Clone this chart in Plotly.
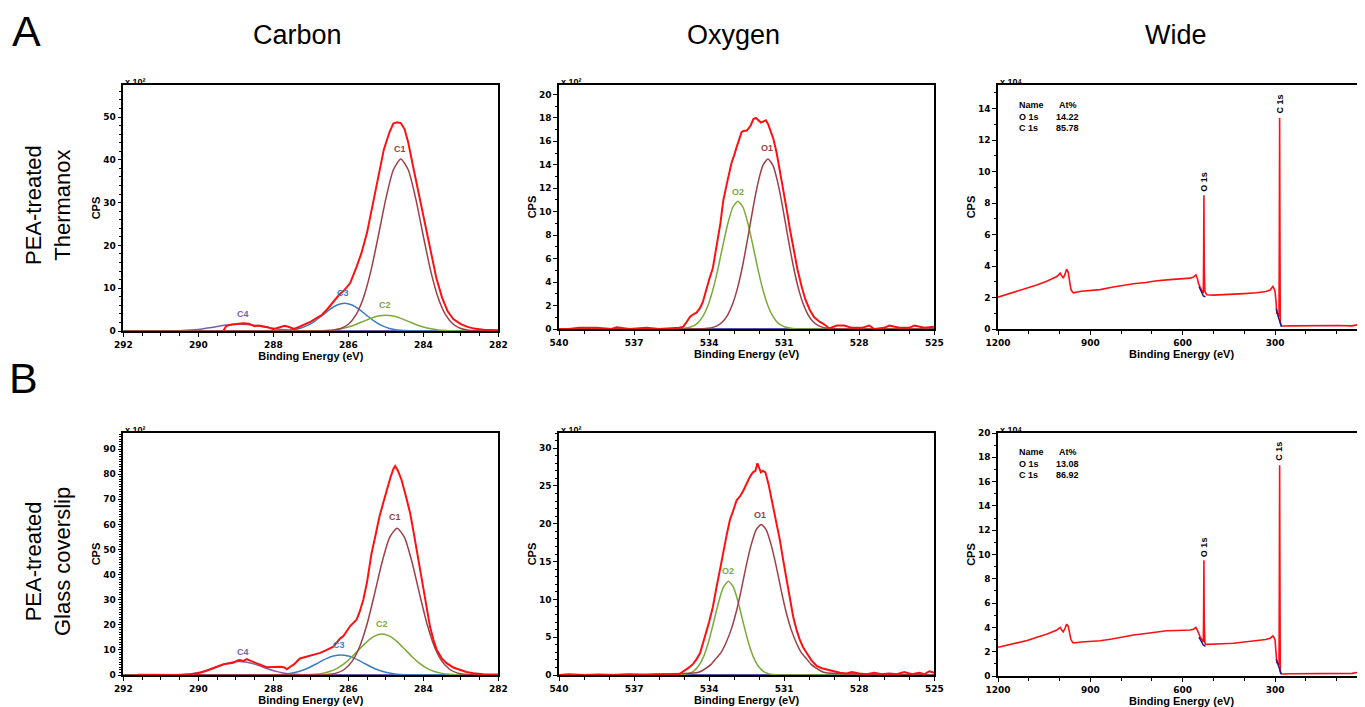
import plotly.graph_objects as go

# The page body has an 8 px default margin, so the figure is drawn 8 px in from the top-left corner.
OFF = 8
W, H = 1365 - OFF, 707 - OFF

# ---------------- DATA ----------------
# Carbon, PEA-treated Thermanox (x10^2 CPS)
CA_RED_X = [289.33, 289.25, 289.1, 288.95, 288.8, 288.65, 288.5, 288.4, 288.3, 288.15, 288.0, 287.85, 287.7, 287.6,
            287.45, 287.3, 287.15, 287.0, 286.85, 286.7, 286.55, 286.4, 286.25, 286.1, 285.95, 285.8, 285.65, 285.5,
            285.35, 285.2, 285.05, 284.9, 284.8, 284.7, 284.6, 284.5, 284.4, 284.25, 284.1, 283.95, 283.8, 283.65,
            283.5, 283.35, 283.2, 283.0, 282.8, 282.6, 282.4, 282.2, 282.0]
CA_RED_Y = [0.1, 1.2, 1.5, 1.6, 1.8, 1.7, 1.1, 1.3, 1.2, 0.9, 0.4, 0.8, 1.2, 1.0,
            0.5, 1.0, 1.6, 2.2, 3.0, 3.8, 5.2, 6.8, 8.4, 9.6, 11.2, 14.5, 18.2, 23.0,
            29.5, 36.0, 42.5, 46.5, 48.5, 48.8, 48.6, 47.2, 44.0, 37.5, 31.0, 24.5, 18.0, 12.3,
            7.8, 4.6, 2.8, 1.6, 0.9, 0.5, 0.3, 0.2, 0.2]
CA_C1_X = [282.0, 282.6, 282.8, 283.0, 283.2, 283.4, 283.6, 283.8, 284.0, 284.2, 284.4, 284.6, 284.8, 285.0, 285.2,
           285.4, 285.6, 285.8, 286.0, 286.2, 286.4, 286.6, 292.0]
CA_C1_Y = [0, 0.05, 0.19, 0.58, 1.58, 3.72, 7.68, 13.95, 22.19, 30.87, 37.63, 40.2, 37.63, 30.87, 22.19,
           13.95, 7.68, 3.72, 1.58, 0.58, 0.19, 0.05, 0]
CA_C2_X = [282.0, 282.8, 283.0, 283.2, 283.4, 283.6, 283.8, 284.0, 284.2, 284.4, 284.6, 284.8, 285.0, 285.2, 285.4,
           285.6, 285.8, 286.0, 286.2, 286.4, 286.6, 286.8, 287.0, 287.2, 292.0]
CA_C2_Y = [0, 0.0, 0.01, 0.04, 0.11, 0.24, 0.50, 0.92, 1.52, 2.25, 2.96, 3.50, 3.7, 3.50, 2.96,
           2.25, 1.52, 0.92, 0.50, 0.24, 0.11, 0.04, 0.01, 0.0, 0]
CA_C3_X = [282.0, 283.9, 284.1, 284.3, 284.5, 284.7, 284.9, 285.1, 285.3, 285.5, 285.7, 285.9, 286.1, 286.3, 286.5,
           286.7, 286.9, 287.1, 287.3, 287.5, 287.7, 287.9, 288.1, 288.3, 292.0]
CA_C3_Y = [0, 0, 0.01, 0.03, 0.09, 0.25, 0.60, 1.24, 2.26, 3.59, 4.99, 6.08, 6.5, 6.08, 4.99,
           3.59, 2.26, 1.24, 0.60, 0.25, 0.09, 0.03, 0.01, 0, 0]
CA_C4_X = [282.0, 286.7, 286.9, 287.1, 287.3, 287.5, 287.7, 287.9, 288.1, 288.3, 288.5, 288.7, 288.9, 289.1, 289.3,
           289.5, 289.7, 289.9, 290.1, 290.3, 290.5, 290.7, 290.9, 291.1, 292.0]
CA_C4_Y = [0, 0.01, 0.01, 0.04, 0.08, 0.16, 0.29, 0.49, 0.75, 1.04, 1.32, 1.53, 1.6, 1.53, 1.32,
           1.04, 0.75, 0.49, 0.29, 0.16, 0.08, 0.04, 0.01, 0.01, 0]

# Carbon, PEA-treated Glass coverslip (x10^2 CPS)
CB_RED_X = [291.6, 291.2, 290.8, 290.4, 290.2, 290.05, 289.95, 289.8, 289.69, 289.5, 289.33, 289.2, 289.07, 288.95,
            288.89, 288.8, 288.71, 288.6, 288.44, 288.3, 288.18, 288.0, 287.82, 287.7, 287.64, 287.55, 287.45,
            287.29, 287.1, 286.93, 286.75, 286.6, 286.5, 286.4, 286.22, 286.13, 285.95, 285.85, 285.78, 285.7,
            285.6, 285.5, 285.38, 285.27, 285.17, 285.07, 284.98, 284.88, 284.8, 284.75, 284.68, 284.58, 284.46,
            284.35, 284.26, 284.18, 284.09, 284.0, 283.91, 283.82, 283.73, 283.64, 283.5, 283.38, 283.2, 283.02,
            282.85, 282.67, 282.4, 282.0]
CB_RED_Y = [0.1, 0.0, 0.1, 0.0, 0.2, 0.6, 0.9, 1.6, 2.3, 3.4, 4.3, 4.6, 4.9, 5.8,
            6.0, 5.5, 6.3, 5.6, 4.7, 3.6, 3.1, 3.2, 3.3, 3.0, 2.3, 3.3, 4.2,
            6.6, 7.3, 8.0, 8.8, 9.8, 10.5, 11.3, 14.5, 15.5, 19.5, 21.0, 22.0, 25.0,
            30.0, 37.0, 48.5, 56.0, 63.0, 68.5, 73.7, 78.5, 82.0, 83.3, 81.5, 77.7, 71.0,
            64.4, 57.0, 49.8, 42.0, 33.9, 26.0, 19.2, 14.0, 10.0, 6.5, 4.7, 3.0, 2.0,
            1.2, 0.7, 0.3, 0.2]
CB_C1_X = [282.0, 282.7, 282.9, 283.1, 283.3, 283.5, 283.7, 283.9, 284.1, 284.3, 284.5, 284.7, 284.9, 285.1, 285.3,
           285.5, 285.7, 285.9, 286.1, 286.3, 286.5, 286.7, 292.0]
CB_C1_Y = [0, 0.08, 0.27, 0.85, 2.29, 5.42, 11.17, 20.30, 32.29, 44.93, 54.76, 58.5, 54.76, 44.93, 32.29,
           20.30, 11.17, 5.42, 2.29, 0.85, 0.27, 0.08, 0]
CB_C2_X = [282.0, 282.9, 283.1, 283.3, 283.5, 283.7, 283.9, 284.1, 284.3, 284.5, 284.7, 284.9, 285.1, 285.3, 285.5,
           285.7, 285.9, 286.1, 286.3, 286.5, 286.7, 286.9, 287.1, 287.3, 292.0]
CB_C2_Y = [0, 0.04, 0.11, 0.28, 0.65, 1.38, 2.66, 4.63, 7.29, 10.37, 13.32, 15.50, 16.3, 15.50, 13.32,
           10.37, 7.29, 4.63, 2.66, 1.38, 0.65, 0.28, 0.11, 0.04, 0]
CB_C3_X = [282.0, 284.0, 284.2, 284.4, 284.6, 284.8, 285.0, 285.2, 285.4, 285.6, 285.8, 286.0, 286.2, 286.4, 286.6,
           286.8, 287.0, 287.2, 287.4, 287.6, 287.8, 288.0, 288.2, 288.4, 292.0]
CB_C3_Y = [0, 0.01, 0.03, 0.09, 0.23, 0.53, 1.08, 1.99, 3.29, 4.86, 6.41, 7.57, 8.0, 7.57, 6.41,
           4.86, 3.29, 1.99, 1.08, 0.53, 0.23, 0.09, 0.03, 0.01, 0]
CB_C4_X = [282.0, 286.7, 286.9, 287.1, 287.3, 287.5, 287.7, 287.9, 288.1, 288.3, 288.5, 288.7, 288.9, 289.1, 289.3,
           289.5, 289.7, 289.9, 290.1, 290.3, 290.5, 290.7, 290.9, 291.1, 292.0]
CB_C4_Y = [0, 0.01, 0.02, 0.06, 0.15, 0.35, 0.73, 1.34, 2.22, 3.28, 4.33, 5.11, 5.4, 5.11, 4.33,
           3.28, 2.22, 1.34, 0.73, 0.35, 0.15, 0.06, 0.02, 0.01, 0]

# Oxygen, PEA-treated Thermanox (x10^2 CPS)
OA_RED_X = [525.0, 525.4, 525.8, 526.0, 526.4, 526.8, 527.0, 527.4, 527.6, 527.9, 528.3, 528.6, 528.9, 529.2, 529.4,
            529.57, 529.8, 529.97, 530.15, 530.3, 530.47, 530.64, 530.77, 530.9, 531.05, 531.17, 531.3, 531.43,
            531.55, 531.63, 531.73, 531.83, 531.93, 532.03, 532.13, 532.23, 532.35, 532.5, 532.6, 532.7, 532.8,
            532.9, 533.0, 533.1, 533.25, 533.43, 533.55, 533.7, 533.85, 534.0, 534.1, 534.25, 534.36, 534.5, 534.6,
            534.76, 534.9, 535.03, 535.2, 535.6, 536.0, 536.5, 537.2, 537.7, 537.9, 538.5, 538.7, 539.2, 539.6,
            540.0]
OA_RED_Y = [0.2, 0.1, 0.3, 0.1, 0.1, 0.3, 0.1, 0.0, 0.3, 0.1, 0.1, 0.3, 0.3, 0.05, 0.4,
            0.6, 1.0, 1.6, 2.5, 3.6, 5.1, 6.9, 8.5, 10.2, 12.0, 13.5, 15.0, 16.2,
            17.0, 17.4, 17.8, 17.7, 17.6, 17.8, 18.0, 17.9, 17.3, 16.9, 16.9, 16.8, 16.2,
            15.5, 14.8, 14.2, 12.8, 11.0, 9.0, 7.0, 5.2, 4.2, 3.4, 2.3, 1.8, 1.4, 1.3,
            1.05, 0.6, 0.2, 0.1, 0.05, 0.0, 0.1, 0.0, 0.15, 0.0, 0.1, 0.1, 0.1, 0.0,
            0.0]
OA_O1_X = [525.0, 529.05, 529.25, 529.45, 529.65, 529.85, 530.05, 530.25, 530.45, 530.65, 530.85, 531.05, 531.25,
           531.45, 531.65, 531.85, 532.05, 532.25, 532.45, 532.65, 532.85, 533.05, 533.25, 533.45, 533.65, 533.85,
           534.05, 534.25, 540.0]
OA_O1_Y = [0, 0.02, 0.06, 0.14, 0.31, 0.64, 1.23, 2.19, 3.61, 5.52, 7.82, 10.25, 12.43,
           13.95, 14.5, 13.95, 12.43, 10.25, 7.82, 5.52, 3.61, 2.19, 1.23, 0.64, 0.31, 0.14,
           0.06, 0.02, 0]
OA_O2_X = [525.0, 530.45, 530.65, 530.85, 531.05, 531.25, 531.45, 531.65, 531.85, 532.05, 532.25, 532.45, 532.65,
           532.85, 533.05, 533.25, 533.45, 533.65, 533.85, 534.05, 534.25, 534.45, 534.65, 534.85, 535.05, 535.25,
           540.0]
OA_O2_Y = [0, 0.01, 0.04, 0.10, 0.24, 0.52, 1.07, 1.98, 3.34, 5.11, 7.12, 9.01, 10.40,
           10.9, 10.40, 9.01, 7.12, 5.11, 3.34, 1.98, 1.07, 0.52, 0.24, 0.10, 0.04, 0.01,
           0]

# Oxygen, PEA-treated Glass coverslip (x10^2 CPS)
OB_RED_X = [525.0, 525.2, 525.4, 525.6, 525.9, 526.2, 526.5, 526.8, 527.1, 527.4, 527.7, 528.0, 528.3, 528.5,
            528.77, 529.0, 529.3, 529.5, 529.7, 529.9, 530.1, 530.25, 530.37, 530.5, 530.64, 530.77, 530.9,
            531.04, 531.17, 531.3, 531.43, 531.55, 531.63, 531.75, 531.85, 531.93, 532.0, 532.07, 532.15, 532.25,
            532.37, 532.5, 532.63, 532.75, 532.9, 533.05, 533.17, 533.3, 533.43, 533.55, 533.7, 533.85, 534.0,
            534.1, 534.25, 534.36, 534.5, 534.63, 534.8, 535.03, 535.2, 535.5, 536.0, 536.6, 537.2, 537.8, 538.4,
            539.0, 539.6, 540.0]
OB_RED_Y = [0.3, 0.5, 0.1, 0.3, 0.1, 0.4, 0.1, 0.2, 0.1, 0.3, 0.1, 0.2, 0.4, 0.2,
            0.3, 0.5, 0.7, 0.9, 1.2, 1.9, 2.9, 3.7, 4.6, 5.9, 7.7, 10.0, 12.5,
            15.2, 17.8, 20.0, 22.2, 24.0, 25.3, 26.8, 27.0, 26.8, 27.5, 28.0, 27.0, 26.8,
            26.2, 25.2, 24.4, 23.7, 23.1, 21.6, 20.5, 18.5, 16.5, 14.2, 11.7, 9.0, 7.0,
            5.9, 4.0, 2.9, 2.1, 1.5, 1.0, 0.44, 0.1, 0.0, 0.05, 0.0, 0.1, 0.0, 0.05,
            0.0, 0.1, 0.0]
OB_O1_X = [525.0, 529.32, 529.52, 529.72, 529.92, 530.12, 530.32, 530.52, 530.72, 530.92, 531.12, 531.32, 531.52,
           531.72, 531.92, 532.12, 532.32, 532.52, 532.72, 532.92, 533.12, 533.32, 533.52, 533.72, 533.92, 534.12,
           534.32, 534.52, 540.0]
OB_O1_Y = [0, 0.3, 0.5, 0.9, 1.4, 2.2, 3.0, 4.3, 6.0, 8.3, 11.2, 14.4, 17.2,
           19.2, 19.9, 19.2, 17.2, 14.4, 11.2, 8.3, 6.0, 4.3, 3.0, 2.2, 1.4, 0.9,
           0.5, 0.3, 0]
OB_O2_X = [525.0, 531.23, 531.43, 531.63, 531.83, 532.03, 532.23, 532.43, 532.63, 532.83, 533.03, 533.23, 533.43,
           533.63, 533.83, 534.03, 534.23, 534.43, 534.63, 534.83, 535.03, 535.23, 540.0]
OB_O2_Y = [0, 0.02, 0.06, 0.18, 0.49, 1.15, 2.37, 4.30, 6.84, 9.52, 11.61, 12.4, 11.61,
           9.52, 6.84, 4.30, 2.37, 1.15, 0.49, 0.18, 0.06, 0.02, 0]

# Wide survey (x10^4 CPS)
WIDE_X = [1200, 1170, 1139, 1105, 1074, 1040, 1009, 1000, 998, 992, 988, 982, 977, 972, 968, 963, 958, 955, 930, 900,
          868, 830, 800, 760, 720, 690, 652, 620, 590, 576, 565, 557, 552, 549, 543, 538, 535, 533, 532, 531, 530,
          528, 526, 522, 500, 470, 435, 400, 360, 330, 316, 310, 307, 303, 300, 297, 294, 291, 289, 287, 286, 285,
          284, 283, 281, 278, 273, 250, 200, 150, 100, 50, 30, 20, 12, 8]
WA_Y = [2.02, 2.2, 2.38, 2.6, 2.8, 3.05, 3.33, 3.5, 3.55, 3.35, 3.23, 3.5, 3.8, 3.6, 3.1, 2.5, 2.35, 2.3, 2.4, 2.45,
        2.5, 2.65, 2.75, 2.87, 2.95, 3.05, 3.12, 3.15, 3.2, 3.23, 3.3, 3.44, 3.2, 2.9, 2.65, 2.48, 2.35, 2.27, 4.5,
        8.5, 4.0, 2.4, 2.27, 2.17, 2.15, 2.18, 2.17, 2.25, 2.3, 2.38, 2.48, 2.6, 2.7, 2.55, 2.38, 1.8, 1.0, 0.95,
        0.9, 0.8, 6.0, 13.4, 6.0, 0.5, 0.25, 0.2, 0.19, 0.2, 0.22, 0.2, 0.22, 0.2, 0.28, 0.25, 0.25, 0.22]
WB_Y = [2.36, 2.52, 2.69, 2.92, 3.18, 3.45, 3.78, 3.95, 4.0, 3.75, 3.64, 3.95, 4.27, 4.1, 3.7, 3.0, 2.78, 2.72, 2.8,
        2.85, 2.9, 3.05, 3.2, 3.37, 3.5, 3.6, 3.72, 3.75, 3.76, 3.78, 3.85, 4.0, 3.75, 3.5, 3.2, 3.0, 2.85, 2.8, 5.0,
        9.53, 4.5, 2.75, 2.63, 2.6, 2.6, 2.65, 2.69, 2.78, 2.9, 3.0, 3.1, 3.22, 3.29, 3.15, 2.96, 2.0, 1.09, 1.05,
        1.0, 0.9, 8.0, 17.34, 8.0, 0.5, 0.22, 0.18, 0.16, 0.18, 0.2, 0.2, 0.2, 0.22, 0.3, 0.3, 0.25, 0.25]
W_BG_O_X = [547, 538, 533, 526]
WA_BG_O_Y = [2.7, 2.35, 2.1, 2.05]
WB_BG_O_Y = [3.2, 2.85, 2.55, 2.45]
W_BG_C_X = [296, 292, 289, 285, 282, 279]
WA_BG_C_Y = [1.3, 0.9, 0.75, 0.5, 0.25, 0.15]
WB_BG_C_Y = [1.4, 1.0, 0.85, 0.55, 0.25, 0.15]

CARBON_RANGE = [292, 282]
OXYGEN_RANGE = [540, 525]
WIDE_RANGE = [1200, 7.7]

AT_A = [("O 1s", "14.22"), ("C 1s", "85.78")]
AT_B = [("O 1s", "13.08"), ("C 1s", "86.92")]

# ---------------- STYLE ----------------
RED = "#ff1010"
BROWN = "#9e3f47"
GREEN = "#7aaa38"
BLUE = "#3d7cc2"
PURPLE = "#7c5ea8"
NAVY = "#1c1c8a"


def px(x):
    return (x - OFF) / W


def py(y):
    return 1 - (y - OFF) / H


# panel pixel boxes in screen pixels: (left, right, top, bottom)
BOX = {
    1: (123.3, 498.3, 85, 331),
    2: (559, 934.3, 85, 329),
    3: (998, 1365, 85, 329),
    4: (123.3, 498.3, 433, 675),
    5: (559, 934.3, 433, 675),
    6: (998, 1365, 433, 676),
}

fig = go.Figure()


def add(idx, x, y, color, width, shape="linear"):
    sfx = "" if idx == 1 else str(idx)
    fig.add_trace(go.Scatter(x=x, y=y, mode="lines", xaxis="x" + sfx, yaxis="y" + sfx,
                             line=dict(color=color, width=width, shape=shape,
                                       smoothing=0.6 if shape == "spline" else None),
                             showlegend=False, hoverinfo="skip"))


# Carbon A
add(1, list(CARBON_RANGE), [0, 0], NAVY, 1.5)
add(1, CA_C4_X, CA_C4_Y, PURPLE, 1.5, "spline")
add(1, CA_C3_X, CA_C3_Y, BLUE, 1.5, "spline")
add(1, CA_C2_X, CA_C2_Y, GREEN, 1.5, "spline")
add(1, CA_C1_X, CA_C1_Y, BROWN, 1.5, "spline")
add(1, CA_RED_X, CA_RED_Y, RED, 2)
# Oxygen A
add(2, list(OXYGEN_RANGE), [0, 0], NAVY, 1.5)
add(2, OA_O2_X, OA_O2_Y, GREEN, 1.5, "spline")
add(2, OA_O1_X, OA_O1_Y, BROWN, 1.5, "spline")
add(2, OA_RED_X, OA_RED_Y, RED, 2)
# Wide A
add(3, WIDE_X, WA_Y, RED, 1.6)
add(3, W_BG_O_X, WA_BG_O_Y, NAVY, 1.5)
add(3, W_BG_C_X, WA_BG_C_Y, NAVY, 1.5)
# Carbon B
add(4, list(CARBON_RANGE), [0, 0], NAVY, 1.5)
add(4, CB_C4_X, CB_C4_Y, PURPLE, 1.5, "spline")
add(4, CB_C3_X, CB_C3_Y, BLUE, 1.5, "spline")
add(4, CB_C2_X, CB_C2_Y, GREEN, 1.5, "spline")
add(4, CB_C1_X, CB_C1_Y, BROWN, 1.5, "spline")
add(4, CB_RED_X, CB_RED_Y, RED, 2)
# Oxygen B
add(5, list(OXYGEN_RANGE), [0, 0], NAVY, 1.5)
add(5, OB_O2_X, OB_O2_Y, GREEN, 1.5, "spline")
add(5, OB_O1_X, OB_O1_Y, BROWN, 1.5, "spline")
add(5, OB_RED_X, OB_RED_Y, RED, 2)
# Wide B
add(6, WIDE_X, WB_Y, RED, 1.6)
add(6, W_BG_O_X, WB_BG_O_Y, NAVY, 1.5)
add(6, W_BG_C_X, WB_BG_C_Y, NAVY, 1.5)

TICKFONT = dict(family="DejaVu Sans", size=9, color="black", weight="bold")
TITLEFONT = dict(family="Liberation Sans", size=11, color="black", weight="bold")

X_SPEC = {1: (CARBON_RANGE, 2, 0.5), 2: (OXYGEN_RANGE, 3, 1), 3: (WIDE_RANGE, 300, 100),
          4: (CARBON_RANGE, 2, 0.5), 5: (OXYGEN_RANGE, 3, 1), 6: (WIDE_RANGE, 300, 100)}
Y_SPEC = {1: ([0, 57.5], 10, 2), 2: ([0, 20.8], 2, 1), 3: ([0, 15.5], 2, 1),
          4: ([0, 96.4], 10, 1), 5: ([0, 32.0], 5, 1), 6: ([0, 20.0], 2, 1)}

layout = dict(width=W, height=H, margin=dict(l=0, r=0, t=0, b=0, autoexpand=False),
              paper_bgcolor="white", plot_bgcolor="white", showlegend=False)

for i in range(1, 7):
    sfx = "" if i == 1 else str(i)
    l, r, t, b = BOX[i]
    xr, xd, xm = X_SPEC[i]
    yr, yd, ym = Y_SPEC[i]
    wide = i in (3, 6)
    layout["xaxis" + sfx] = dict(
        domain=[max(0, px(l)), min(1, px(r))], anchor="y" + sfx, range=xr, tick0=0, dtick=xd, automargin=False,
        showline=True, linecolor="black", linewidth=1.5, mirror=True,
        ticks="outside", ticklen=4, tickwidth=1, tickcolor="black",
        minor=dict(dtick=xm, ticks="outside", ticklen=3, tickcolor="black", tickwidth=1),
        showgrid=False, zeroline=False, tickfont=TICKFONT,
        title=dict(text="Binding Energy (eV)", font=TITLEFONT, standoff=0),
    )
    layout["yaxis" + sfx] = dict(
        domain=[py(b), py(t)], anchor="x" + sfx, range=yr, tick0=0, dtick=yd, automargin=False,
        showline=True, linecolor="black", linewidth=1.5, mirror=not wide,
        ticks="outside", ticklen=4, tickwidth=1, tickcolor="black",
        minor=dict(dtick=ym, ticks="outside", ticklen=2.5, tickcolor="black", tickwidth=1),
        showgrid=False, zeroline=False, tickfont=TICKFONT,
        title=dict(text="CPS", font=TITLEFONT, standoff=0),
    )

fig.update_layout(**layout)

ann = []


def paper_text(text, x, y, size, angle=0, family="Liberation Sans", weight="normal", xanchor="center",
               color="black"):
    ann.append(dict(text=text, x=px(x), y=py(y), xref="paper", yref="paper", showarrow=False,
                    xanchor=xanchor, yanchor="middle", textangle=angle,
                    font=dict(family=family, size=size, color=color, weight=weight)))


paper_text("A", 26, 31, 43)
paper_text("B", 23, 378, 43)
paper_text("Carbon", 297, 35, 27)
paper_text("Oxygen", 733, 35, 27)
paper_text("Wide", 1176, 35, 27)
paper_text("PEA-treated<br>Thermanox", 48, 205, 22, angle=-90)
paper_text("PEA-treated<br>Glass coverslip", 48, 562, 22, angle=-90)

# exponent labels
for i, e in [(1, "\u00b2"), (2, "\u00b2"), (3, "\u2074"), (4, "\u00b2"), (5, "\u00b2"), (6, "\u2074")]:
    sfx = "" if i == 1 else str(i)
    ann.append(dict(text="x 10" + e, x=0, y=1, xref="x%s domain" % sfx, yref="y%s domain" % sfx,
                    xanchor="left", yanchor="bottom", showarrow=False, yshift=-4,
                    font=dict(family="Liberation Sans", size=9, color="black", weight="bold")))


def data_text(i, text, x, y, color, size=9, angle=0):
    sfx = "" if i == 1 else str(i)
    ann.append(dict(text=text, x=x, y=y, xref="x" + sfx, yref="y" + sfx, showarrow=False,
                    textangle=angle, xanchor="center", yanchor="middle",
                    font=dict(family="Liberation Sans", size=size, color=color, weight="bold")))


data_text(1, "C1", 284.62, 42.5, BROWN)
data_text(1, "C2", 285.02, 6.0, GREEN)
data_text(1, "C3", 286.13, 8.9, BLUE)
data_text(1, "C4", 288.82, 3.9, PURPLE)
data_text(4, "C1", 284.75, 62.8, BROWN)
data_text(4, "C2", 285.11, 20.3, GREEN)
data_text(4, "C3", 286.24, 12.0, BLUE)
data_text(4, "C4", 288.82, 9.0, PURPLE)
data_text(2, "O1", 531.7, 15.4, BROWN)
data_text(2, "O2", 532.86, 11.7, GREEN)
data_text(5, "O1", 531.97, 21.2, BROWN)
data_text(5, "O2", 533.23, 13.7, GREEN)

# wide-scan peak labels
data_text(3, "O 1s", 531, 9.35, "black", size=9, angle=-90)
data_text(3, "C 1s", 285, 14.3, "black", size=9, angle=-90)
data_text(6, "O 1s", 531, 10.6, "black", size=9, angle=-90)
data_text(6, "C 1s", 285, 18.5, "black", size=9, angle=-90)

# At% tables
for (rows, y0) in [(AT_A, 105), (AT_B, 452)]:
    paper_text("Name", 1017, y0, 9, weight="bold", xanchor="left")
    paper_text("At%", 1057, y0, 9, weight="bold", xanchor="left")
    for k, (nm, val) in enumerate(rows):
        yy = y0 + 11.5 * (k + 1)
        paper_text(nm, 1017, yy, 9, weight="bold", xanchor="left")
        paper_text(val, 1054, yy, 9, weight="bold", xanchor="left")

fig.update_layout(annotations=ann)
fig.write_html("out.html")
